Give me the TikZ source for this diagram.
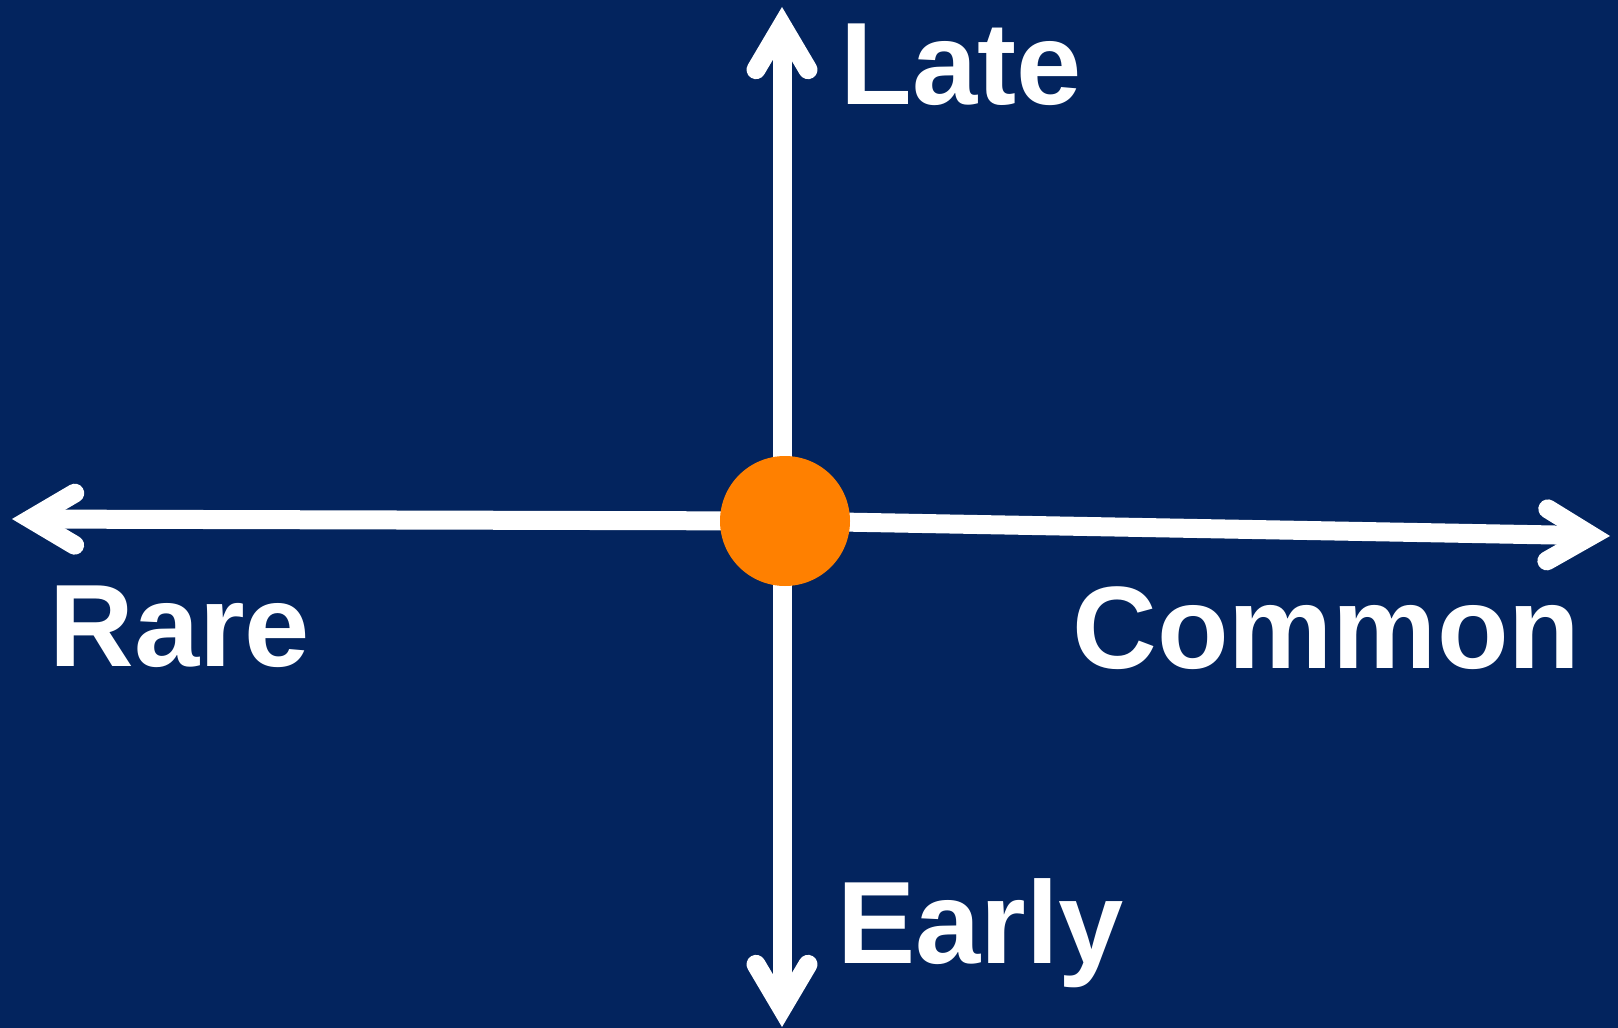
\documentclass[tikz,border=0pt]{standalone}
\usepackage{fontspec}
\setmainfont{Liberation Sans}
\usepackage{tikz}
\usetikzlibrary{arrows.meta}
\definecolor{FondoAzul}{RGB}{3,36,94}
\definecolor{NaranjaPunto}{RGB}{255,128,0}

\begin{document}
\begin{tikzpicture}[x=0.5pt,y=-0.5pt,
    eje/.style={line width=9.5pt,white,
      -{Straight Barb[length=22pt,width=26pt,line cap=round,line join=miter]}},
    etiqueta/.style={anchor=base west,inner sep=0pt,white,
      font=\fontsize{58.6pt}{62pt}\selectfont\bfseries}]
  \fill[FondoAzul] (0,0) rectangle (1618,1028);
  \useasboundingbox (0,0) rectangle (1618,1028);
  \coordinate (C) at (785,521);
  \coordinate (late) at (782,7);
  \coordinate (early) at (782,1027);
  \coordinate (rare) at (12,519);
  \coordinate (common) at (1610,536);
  \draw[eje] (782,521) -- (late);
  \draw[eje] (782,521) -- (early);
  \draw[eje] (C) -- (rare);
  \draw[eje] (C) -- (common);
  \node[circle,fill=NaranjaPunto,minimum size=65pt,inner sep=0pt] (punto) at (C) {};
  \node[etiqueta] (tlate) at (840,104) {Late};
  \node[etiqueta] (tearly) at (837,963) {Early};
  \node[etiqueta] (trare) at (49,666) {Rare};
  \node[etiqueta] (tcommon) at (1072,668) {Common};
\end{tikzpicture}
\end{document}
